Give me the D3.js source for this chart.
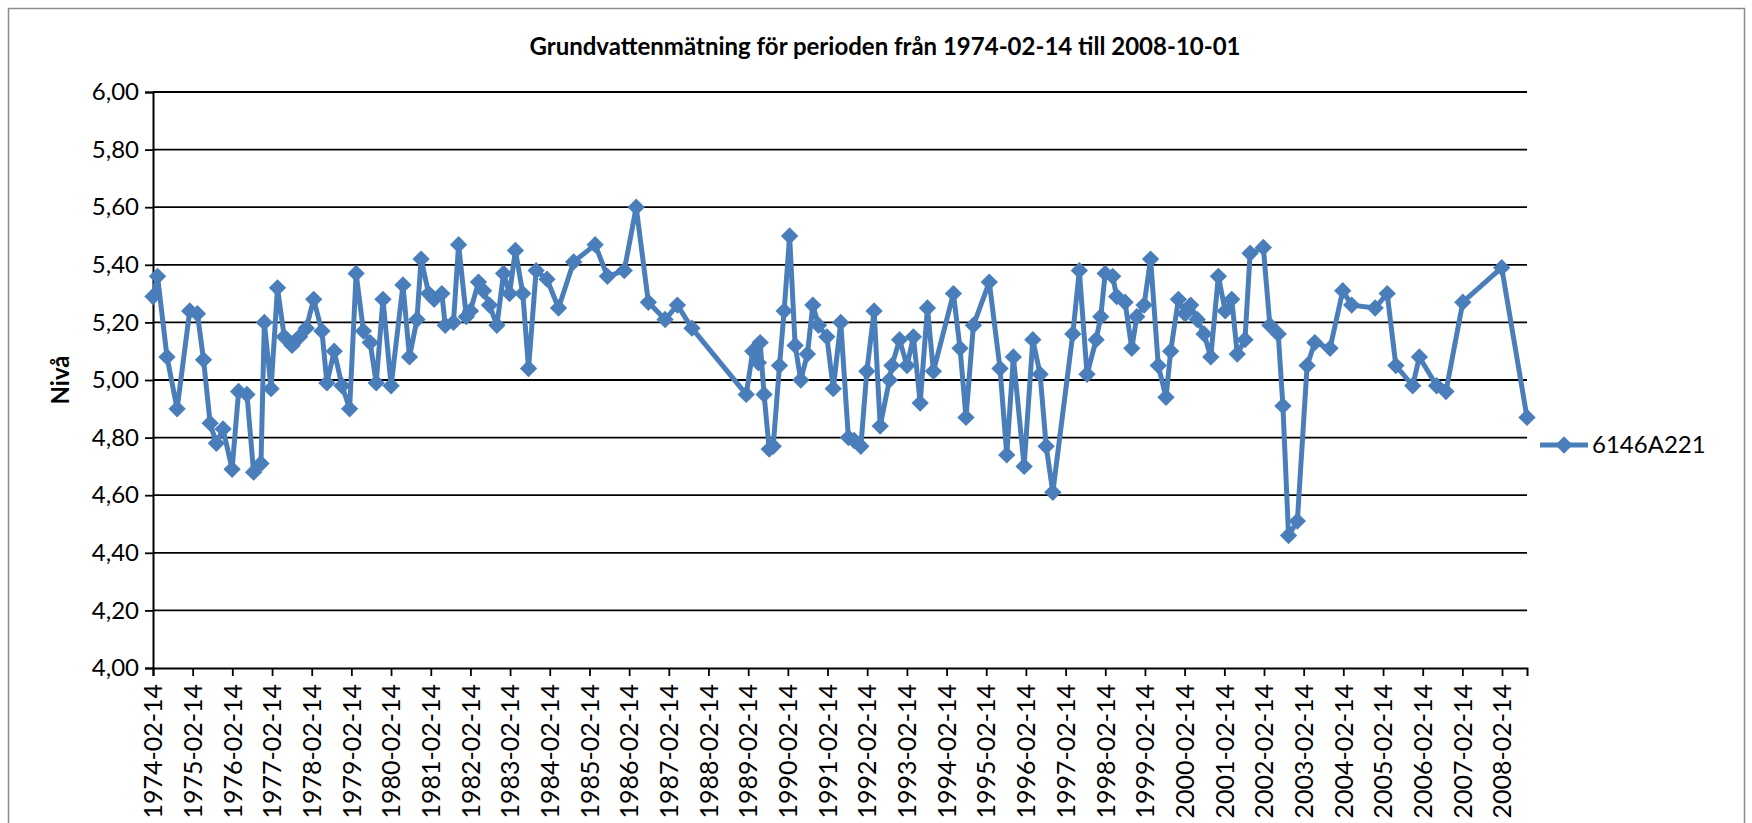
<!DOCTYPE html>
<html>
<head>
<meta charset="utf-8">
<script src="https://cdn.jsdelivr.net/npm/d3@7"></script>
<style>
  body { margin: 0; background: #fff; }
  svg { display: block; font-family: Lato, "Open Sans", sans-serif; }
</style>
</head>
<body>
<svg id="vis" width="1752" height="823"></svg>
<script>
const dates = [
  "1974-02-14","1974-03-28","1974-06-23","1974-09-24","1975-01-18","1975-03-30","1975-05-25","1975-07-25",
  "1975-09-20","1975-11-21","1976-02-12","1976-04-12","1976-06-28","1976-08-28","1976-11-04","1976-12-05",
  "1977-02-05","1977-04-05","1977-06-06","1977-08-17","1977-10-25","1977-12-26","1978-03-04","1978-05-19",
  "1978-07-04","1978-09-09","1978-11-20","1979-01-29","1979-03-30","1979-06-05","1979-08-06","1979-10-01",
  "1979-12-02","1980-02-15","1980-06-03","1980-08-02","1980-10-10","1980-11-17","1981-01-26","1981-03-17",
  "1981-05-27","1981-06-27","1981-09-11","1981-10-28","1982-01-07","1982-02-14","1982-04-29","1982-06-15",
  "1982-08-08","1982-10-16","1982-12-16","1983-02-09","1983-04-04","1983-06-11","1983-08-03","1983-10-12",
  "1984-01-20","1984-05-05","1984-09-21","1985-04-07","1985-07-29","1985-12-31","1986-04-20","1986-08-10",
  "1987-01-11","1987-05-04","1987-09-15","1989-01-27","1989-03-28","1989-05-19","1989-06-04","1989-07-10",
  "1989-08-26","1989-10-02","1989-11-29","1990-01-11","1990-03-02","1990-04-22","1990-06-13","1990-08-13",
  "1990-10-02","1990-11-23","1991-02-08","1991-04-08","1991-06-16","1991-08-25","1991-10-17","1991-12-18",
  "1992-02-11","1992-04-18","1992-06-13","1992-09-06","1992-09-29","1992-12-08","1993-02-15","1993-04-15",
  "1993-06-16","1993-08-22","1993-10-16","1994-04-18","1994-06-18","1994-08-12","1994-10-19","1995-03-14",
  "1995-06-21","1995-08-22","1995-10-22","1996-01-29","1996-04-18","1996-06-24","1996-08-19","1996-10-19",
  "1997-04-21","1997-06-20","1997-08-30","1997-11-22","1998-01-03","1998-02-13","1998-04-23","1998-05-30",
  "1998-08-15","1998-10-16","1998-12-01","1999-02-06","1999-04-07","1999-06-17","1999-08-27","1999-10-09",
  "1999-12-19","2000-02-19","2000-04-10","2000-06-10","2000-08-11","2000-10-12","2000-12-21","2001-02-22",
  "2001-04-23","2001-06-13","2001-08-23","2001-10-09","2002-02-08","2002-04-09","2002-06-25","2002-08-07",
  "2002-09-28","2002-12-18","2003-03-18","2003-05-28","2003-10-15","2004-02-09","2004-05-01","2004-12-03",
  "2005-03-24","2005-06-12","2005-11-14","2006-01-14","2006-06-22","2006-09-16","2007-02-18","2008-02-11",
  "2008-10-01"
];

// groundwater level (Nivå)
const levels = [
  5.29,5.36,5.08,4.90,5.24,5.23,5.07,4.85,
  4.78,4.83,4.69,4.96,4.95,4.68,4.71,5.20,
  4.97,5.32,5.15,5.12,5.15,5.18,5.28,5.17,
  4.99,5.10,4.98,4.90,5.37,5.17,5.13,4.99,
  5.28,4.98,5.33,5.08,5.21,5.42,5.30,5.28,
  5.30,5.19,5.20,5.47,5.22,5.24,5.34,5.31,
  5.26,5.19,5.37,5.30,5.45,5.30,5.04,5.38,
  5.35,5.25,5.41,5.47,5.36,5.38,5.60,5.27,
  5.21,5.26,5.18,4.95,5.10,5.06,5.13,4.95,
  4.76,4.77,5.05,5.24,5.50,5.12,5.00,5.09,
  5.26,5.19,5.15,4.97,5.20,4.80,4.79,4.77,
  5.03,5.24,4.84,5.00,5.05,5.14,5.05,5.15,
  4.92,5.25,5.03,5.30,5.11,4.87,5.19,5.34,
  5.04,4.74,5.08,4.70,5.14,5.02,4.77,4.61,
  5.16,5.38,5.02,5.14,5.22,5.37,5.36,5.29,
  5.27,5.11,5.22,5.26,5.42,5.05,4.94,5.10,
  5.28,5.23,5.26,5.21,5.16,5.08,5.36,5.24,
  5.28,5.09,5.14,5.44,5.46,5.19,5.16,4.91,
  4.46,4.51,5.05,5.13,5.11,5.31,5.26,5.25,
  5.30,5.05,4.98,5.08,4.98,4.96,5.27,5.39,
  4.87
];

const seriesName = "6146A221";
const titleText = "Grundvattenmätning för perioden från 1974-02-14 till 2008-10-01";
const yLabel = "Nivå";
const yTicks = [4.0, 4.2, 4.4, 4.6, 4.8, 5.0, 5.2, 5.4, 5.6, 5.8, 6.0];
const tickYears = d3.range(1974, 2009);
const dateRange = ["1974-02-14", "2008-10-01"];

const parse = d3.utcParse("%Y-%m-%d");
const data = dates.map((d, i) => ({date: parse(d), value: levels[i]}));

const plot = {left: 153, right: 1527, top: 92, bottom: 668};
const blue = "#4a7ebb";

const svg = d3.select("svg#vis");

// outer chart frame
svg.append("rect")
  .attr("x", 8.5).attr("y", 8.5)
  .attr("width", 1736).attr("height", 830)
  .attr("fill", "#fff")
  .attr("stroke", "#8c8c8c")
  .attr("stroke-width", 1.5);

const x = d3.scaleUtc()
  .domain(dateRange.map(parse))
  .range([plot.left, plot.right]);

const y = d3.scaleLinear()
  .domain([4, 6])
  .range([plot.bottom, plot.top]);

// horizontal gridlines
svg.append("g").attr("id", "grid")
  .selectAll("line")
  .data(yTicks.filter(v => v > 4))
  .enter()
  .append("line")
  .attr("x1", plot.left).attr("x2", plot.right)
  .attr("y1", d => y(d)).attr("y2", d => y(d))
  .attr("stroke", "#000")
  .attr("stroke-width", 1.8);

// y axis
const yAxis = svg.append("g")
  .attr("id", "axiY")
  .attr("transform", "translate(" + plot.left + ",0)")
  .call(d3.axisLeft(y)
    .tickValues(yTicks)
    .tickSize(8)
    .tickPadding(6)
    .tickFormat(d => d3.format(".2f")(d).replace(".", ",")));

// x axis
const xAxis = svg.append("g")
  .attr("id", "axiX")
  .attr("transform", "translate(0," + plot.bottom + ")")
  .call(d3.axisBottom(x)
    .tickValues(tickYears.map(yr => parse(yr + "-02-14")))
    .tickSize(8)
    .tickFormat(d3.utcFormat("%Y-%m-%d")));

[yAxis, xAxis].forEach(ax => {
  ax.select(".domain").attr("stroke", "#000").attr("stroke-width", 2);
  ax.selectAll(".tick line").attr("stroke", "#000").attr("stroke-width", 1.8);
  ax.selectAll("text")
    .attr("fill", "#000")
    .style("font-family", "Lato, sans-serif")
    .style("font-size", "24px");
});

xAxis.selectAll("text")
  .attr("transform", "rotate(-90)")
  .attr("text-anchor", "end")
  .attr("x", -16)
  .attr("y", 0)
  .attr("dy", "0.35em")
  .style("font-size", "25px");

// series line
const line = d3.line()
  .x(d => x(d.date))
  .y(d => y(d.value));

svg.append("path")
  .datum(data)
  .attr("d", line)
  .attr("fill", "none")
  .attr("stroke", blue)
  .attr("stroke-width", 5)
  .attr("stroke-linejoin", "round");

// diamond markers
const diamond = d3.symbol().type(d3.symbolSquare).size(150);

svg.append("g").attr("id", "markers")
  .selectAll("path")
  .data(data)
  .enter()
  .append("path")
  .attr("d", diamond)
  .attr("transform", d => "translate(" + x(d.date) + "," + y(d.value) + ") rotate(45)")
  .attr("fill", blue);

// title
svg.append("text")
  .attr("x", 885).attr("y", 55)
  .attr("text-anchor", "middle")
  .style("font-family", "Lato, sans-serif")
  .style("font-weight", "bold")
  .style("font-size", "24px")
  .text(titleText);

// y axis title
svg.append("text")
  .attr("transform", "translate(61," + ((plot.top + plot.bottom) / 2) + ") rotate(-90)")
  .attr("text-anchor", "middle")
  .attr("dy", "0.35em")
  .style("font-family", "Lato, sans-serif")
  .style("font-weight", "bold")
  .style("font-size", "24px")
  .text(yLabel);

// legend
const legend = svg.append("g").attr("id", "legend")
  .attr("transform", "translate(1540,445)");
legend.append("line")
  .attr("x1", 0).attr("x2", 48)
  .attr("stroke", blue).attr("stroke-width", 5);
legend.append("path")
  .attr("d", diamond)
  .attr("transform", "translate(24,0) rotate(45)")
  .attr("fill", blue);
legend.append("text")
  .attr("x", 52).attr("dy", "0.35em")
  .style("font-family", "Lato, sans-serif")
  .style("font-size", "24px")
  .text(seriesName);
</script>
</body>
</html>
